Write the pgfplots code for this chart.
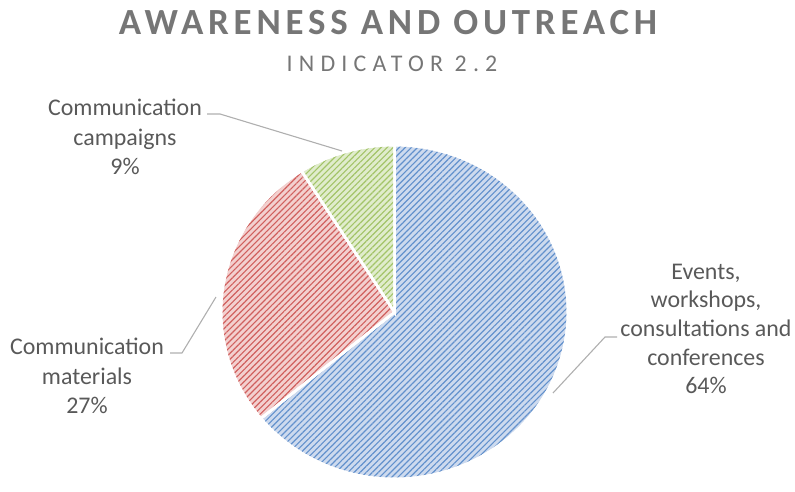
\documentclass[border=0pt]{standalone}
\usepackage{pgfplots}
\pgfplotsset{compat=1.18}
\usepackage{pgfplotstable}
\usetikzlibrary{patterns.meta}
\usepackage{fontspec}
\setmainfont{Carlito}
\newfontfamily\titlefont[LetterSpace=13]{Carlito}
\newfontfamily\subfont[LetterSpace=26]{Carlito}
\definecolor{bluebase}{RGB}{205,218,238}
\definecolor{blueline}{RGB}{98,145,204}
\definecolor{redbase}{RGB}{243,208,207}
\definecolor{redline}{RGB}{208,96,94}
\definecolor{greenbase}{RGB}{224,236,204}
\definecolor{greenline}{RGB}{163,196,104}
\definecolor{titlegray}{RGB}{118,118,118}
\definecolor{labelgray}{RGB}{89,89,89}
\definecolor{leadergray}{RGB}{175,175,175}
\pgfplotstableread{
slice value
Events 64
Materials 27
Campaigns 9
}\piedata
\pgfplotstablegetelem{0}{value}\of\piedata\let\vA\pgfplotsretval%
\pgfplotstablegetelem{1}{value}\of\piedata\let\vB\pgfplotsretval%
\pgfplotstablegetelem{2}{value}\of\piedata\let\vC\pgfplotsretval%
\pgfmathsetmacro\aA{90}%
\pgfmathsetmacro\aB{90-3.6*\vA}%
\pgfmathsetmacro\aC{\aB-3.6*\vB}%
\pgfmathsetmacro\aD{\aC-3.6*\vC}%
\begin{document}
\begin{tikzpicture}
\path[use as bounding box] (0,0) rectangle (795bp,492bp);
\begin{axis}[
  at={(394.5bp,180bp)}, anchor=center,
  scale only axis, width=347bp, height=334bp,
  xmin=-1, xmax=1, ymin=-1, ymax=1,
  hide axis, clip=false,
]
\addplot[draw=white, line width=2.5bp, preaction={fill=bluebase},
  preaction={pattern={Lines[angle=45,distance=4.3bp,line width=1.15bp]}, pattern color=blueline},
  domain=\aB:\aA, samples=150, variable=\t] ({cos(\t)},{sin(\t)}) -- (axis cs:0,0) -- cycle;
\addplot[draw=white, line width=2.5bp, preaction={fill=redbase},
  preaction={pattern={Lines[angle=45,distance=4.3bp,line width=1.15bp]}, pattern color=redline},
  domain=\aC:\aB, samples=80, variable=\t] ({cos(\t)},{sin(\t)}) -- (axis cs:0,0) -- cycle;
\addplot[draw=white, line width=2.5bp, preaction={fill=greenbase},
  preaction={pattern={Lines[angle=45,distance=4.3bp,line width=1.15bp]}, pattern color=greenline},
  domain=\aD:\aC, samples=40, variable=\t] ({cos(\t)},{sin(\t)}) -- (axis cs:0,0) -- cycle;
\end{axis}
% leader lines
\draw[leadergray, line width=1.1bp] (207bp,378bp) -- (220bp,378bp) -- (342bp,341bp);
\draw[leadergray, line width=1.1bp] (170bp,139bp) -- (182bp,139bp) -- (216bp,195bp);
\draw[leadergray, line width=1.1bp] (617bp,155bp) -- (605bp,155bp) -- (553bp,99bp);
% titles
\node[text=titlegray, font=\titlefont\bfseries\fontsize{37}{42}\selectfont] at (388bp,469bp) {AWARENESS AND OUTREACH};
\node[text=titlegray, font=\subfont\fontsize{24}{28}\selectfont] at (392bp,428bp) {INDICATOR 2.2};
% labels
\node[text=labelgray, align=center, font=\fontsize{24}{29.5}\selectfont] at (125bp,355bp) {Communication\\campaigns\\9\%};
\node[text=labelgray, align=center, font=\fontsize{24}{29.5}\selectfont] at (87bp,116bp) {Communication\\materials\\27\%};
\node[text=labelgray, align=center, font=\fontsize{24}{28.7}\selectfont] at (706bp,163bp) {Events,\\workshops,\\consultations and\\conferences\\64\%};
\end{tikzpicture}
\end{document}
